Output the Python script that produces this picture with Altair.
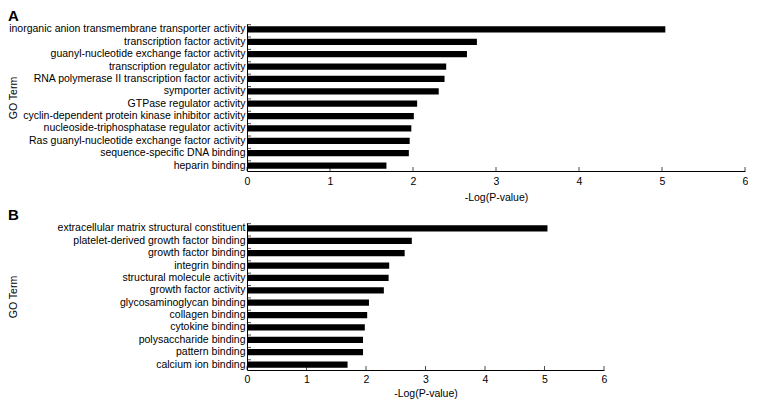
import altair as alt
import pandas as pd

terms_a = [
    "inorganic anion transmembrane transporter activity",
    "transcription factor activity",
    "guanyl-nucleotide exchange factor activity",
    "transcription regulator activity",
    "RNA polymerase II transcription factor activity",
    "symporter activity",
    "GTPase regulator activity",
    "cyclin-dependent protein kinase inhibitor activity",
    "nucleoside-triphosphatase regulator activity",
    "Ras guanyl-nucleotide exchange factor activity",
    "sequence-specific DNA binding",
    "heparin binding",
]
values_a = [5.04, 2.77, 2.65, 2.40, 2.38, 2.31, 2.05, 2.01, 1.98, 1.96, 1.95, 1.68]

terms_b = [
    "extracellular matrix structural constituent",
    "platelet-derived growth factor binding",
    "growth factor binding",
    "integrin binding",
    "structural molecule activity",
    "growth factor activity",
    "glycosaminoglycan binding",
    "collagen binding",
    "cytokine binding",
    "polysaccharide binding",
    "pattern binding",
    "calcium ion binding",
]
values_b = [5.05, 2.77, 2.65, 2.39, 2.38, 2.30, 2.05, 2.02, 1.98, 1.95, 1.95, 1.69]

x_ticks = [0, 1, 2, 3, 4, 5, 6]

FONT = "Liberation Sans"
INK = "black"


def panel(letter, terms, values, width, height, title_offset, label_pad, title_pad):
    df = pd.DataFrame({"term": terms, "value": values})
    tick_df = pd.DataFrame({"value": x_ticks})
    yscale = alt.Scale(paddingInner=0.5, paddingOuter=0.19)
    yaxis = alt.Axis(
        title="GO Term", ticks=False, labelPadding=2, labelFontSize=10.5,
        labelLimit=400, labelColor=INK, labelFont=FONT,
        titleX=-234, titleY=height / 2, titleFontSize=10.5, titleFontWeight="normal",
        titleColor=INK, titleFont=FONT, titleBaseline="middle",
        domainColor=INK, domainWidth=1,
    )
    xaxis = alt.Axis(
        values=x_ticks, title="-Log(P-value)", ticks=False, labelPadding=label_pad,
        grid=False, format="d", labelFontSize=10.5, labelColor=INK, labelFont=FONT,
        titleFontSize=10.5, titleFontWeight="normal", titleColor=INK, titleFont=FONT,
        titlePadding=title_pad, domainColor=INK, domainWidth=1, labelFlush=False,
    )
    bars = alt.Chart(df).mark_bar(color="black").encode(
        x=alt.X("value:Q", scale=alt.Scale(domain=[0, 6], nice=False), axis=xaxis),
        y=alt.Y("term:N", sort=terms, scale=yscale, axis=yaxis),
    )
    ytk = alt.Chart(df).mark_tick(orient="horizontal", color=INK, thickness=1, size=4,
                                  yOffset=-1.7).encode(
        y=alt.Y("term:N", sort=terms, bandPosition=0),
        x=alt.value(2),
    )
    xtk = alt.Chart(tick_df).mark_tick(color=INK, thickness=1, size=4).encode(
        x=alt.X("value:Q"),
        y=alt.value(height - 2),
    )
    return alt.layer(bars, ytk, xtk).properties(
        width=width, height=height,
        title=alt.TitleParams(letter, anchor="start", frame="bounds", fontSize=15,
                              fontWeight="bold", font=FONT, color=INK,
                              offset=title_offset),
    )


chart = alt.vconcat(
    panel("A", terms_a, values_a, 498, 147, 0, 5, 6),
    panel("B", terms_b, values_b, 357, 147, 0, 4, 4),
    spacing=4,
).properties(padding=0).configure_view(stroke=None)

chart.save("out.html", embed_options={"renderer": "svg", "actions": False})
